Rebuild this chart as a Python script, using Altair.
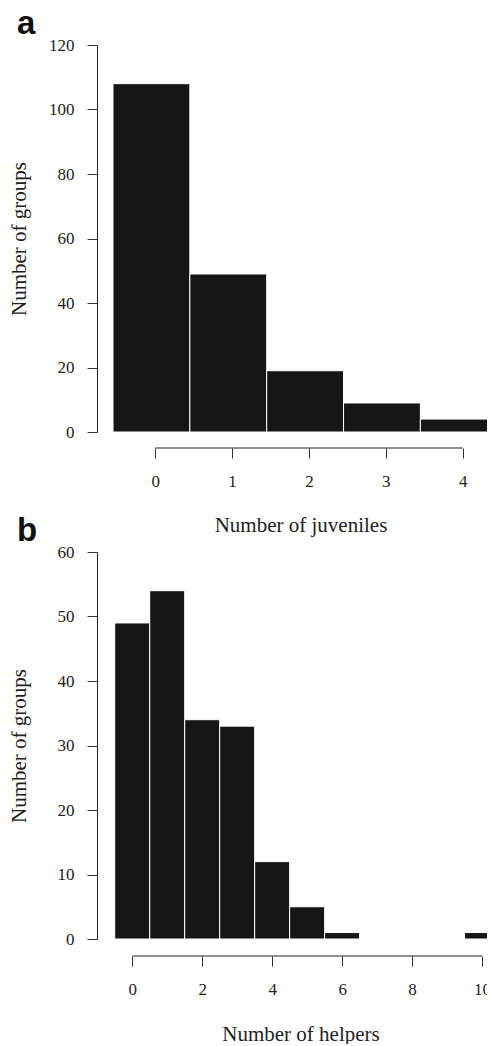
import altair as alt
import pandas as pd

# Panel a: number of juveniles per group
juv_values = [0, 1, 2, 3, 4]
juv_counts = [108, 49, 19, 9, 4]

# Panel b: number of helpers per group
helper_values = [0, 1, 2, 3, 4, 5, 6, 7, 8, 9, 10]
helper_counts = [49, 54, 34, 33, 12, 5, 1, 0, 0, 0, 1]

juv_ticks = [0, 1, 2, 3, 4]
juv_yticks = [0, 20, 40, 60, 80, 100, 120]
helper_ticks = [0, 2, 4, 6, 8, 10]
helper_yticks = [0, 10, 20, 30, 40, 50, 60]

SERIF = "Liberation Serif"
SANS = "Liberation Sans"
W = 375
H = 387

df_a = pd.DataFrame({"value": juv_values, "count": juv_counts})
df_a["start"] = df_a["value"] - 0.55
df_a["end"] = df_a["value"] + 0.45

df_b = pd.DataFrame({"value": helper_values, "count": helper_counts})
df_b["start"] = df_b["value"] - 0.5
df_b["end"] = df_b["value"] + 0.5


def panel(df, xdom, ydom, xticks, yticks, xtitle, label, ytitle_pad, xoff, xtitle_pad):
    xscale = alt.Scale(domain=xdom, nice=False, zero=False)
    yscale = alt.Scale(domain=ydom, nice=False)
    xaxis = alt.Axis(values=xticks, format="d", tickSize=10, offset=xoff, domain=False,
                     labelPadding=15, titlePadding=xtitle_pad, title=xtitle,
                     labelFont=SERIF, labelFontSize=17, titleFont=SERIF,
                     titleFontSize=21, titleFontWeight="normal", labelColor="#222",
                     titleColor="#222", tickColor="#333", grid=False, labelFlush=False)
    yaxis = alt.Axis(values=yticks, format="d", tickSize=10, offset=16, domain=True,
                     domainColor="#222", tickColor="#333", labelPadding=13,
                     titlePadding=ytitle_pad, title="Number of groups",
                     labelFont=SERIF, labelFontSize=17, titleFont=SERIF,
                     titleFontSize=21, titleFontWeight="normal", labelColor="#222",
                     titleColor="#222", grid=False, labelAngle=0)
    bars = alt.Chart(df).mark_rect(fill="#161616", stroke="white", strokeWidth=1,
                                   clip=True).encode(
        x=alt.X("start:Q", scale=xscale, axis=xaxis),
        x2="end:Q",
        y=alt.Y("count:Q", scale=yscale, axis=yaxis),
        y2=alt.datum(0),
    )
    line = alt.Chart(pd.DataFrame({"a": [xticks[0]], "b": [xticks[-1]]})).mark_rule(
        color="#222", strokeWidth=1
    ).encode(x=alt.X("a:Q", scale=xscale), x2="b:Q", y=alt.value(H + xoff))
    txt = alt.Chart(pd.DataFrame({"label": [label]})).mark_text(
        font=SANS, fontSize=33, fontWeight="bold", align="left",
        baseline="alphabetic", color="#111"
    ).encode(x=alt.value(-96), y=alt.value(-11), text="label:N")
    return alt.layer(bars, line, txt).properties(width=W, height=H)


pa = panel(df_a, [-0.55, 4.33], [0, 120], juv_ticks, juv_yticks,
           "Number of juveniles", "a", 19, 16, 25)
pb = panel(df_b, [-0.55, 10.17], [0, 60], helper_ticks, helper_yticks,
           "Number of helpers", "b", 28, 17, 26)

chart = alt.vconcat(pa, pb, spacing=120, bounds="flush").properties(
    padding={"left": 8, "top": 8, "right": -4, "bottom": 0},
    background="white",
).configure_view(strokeWidth=0, stroke=None)

chart.save("out.html", embed_options={"renderer": "svg", "actions": False})
